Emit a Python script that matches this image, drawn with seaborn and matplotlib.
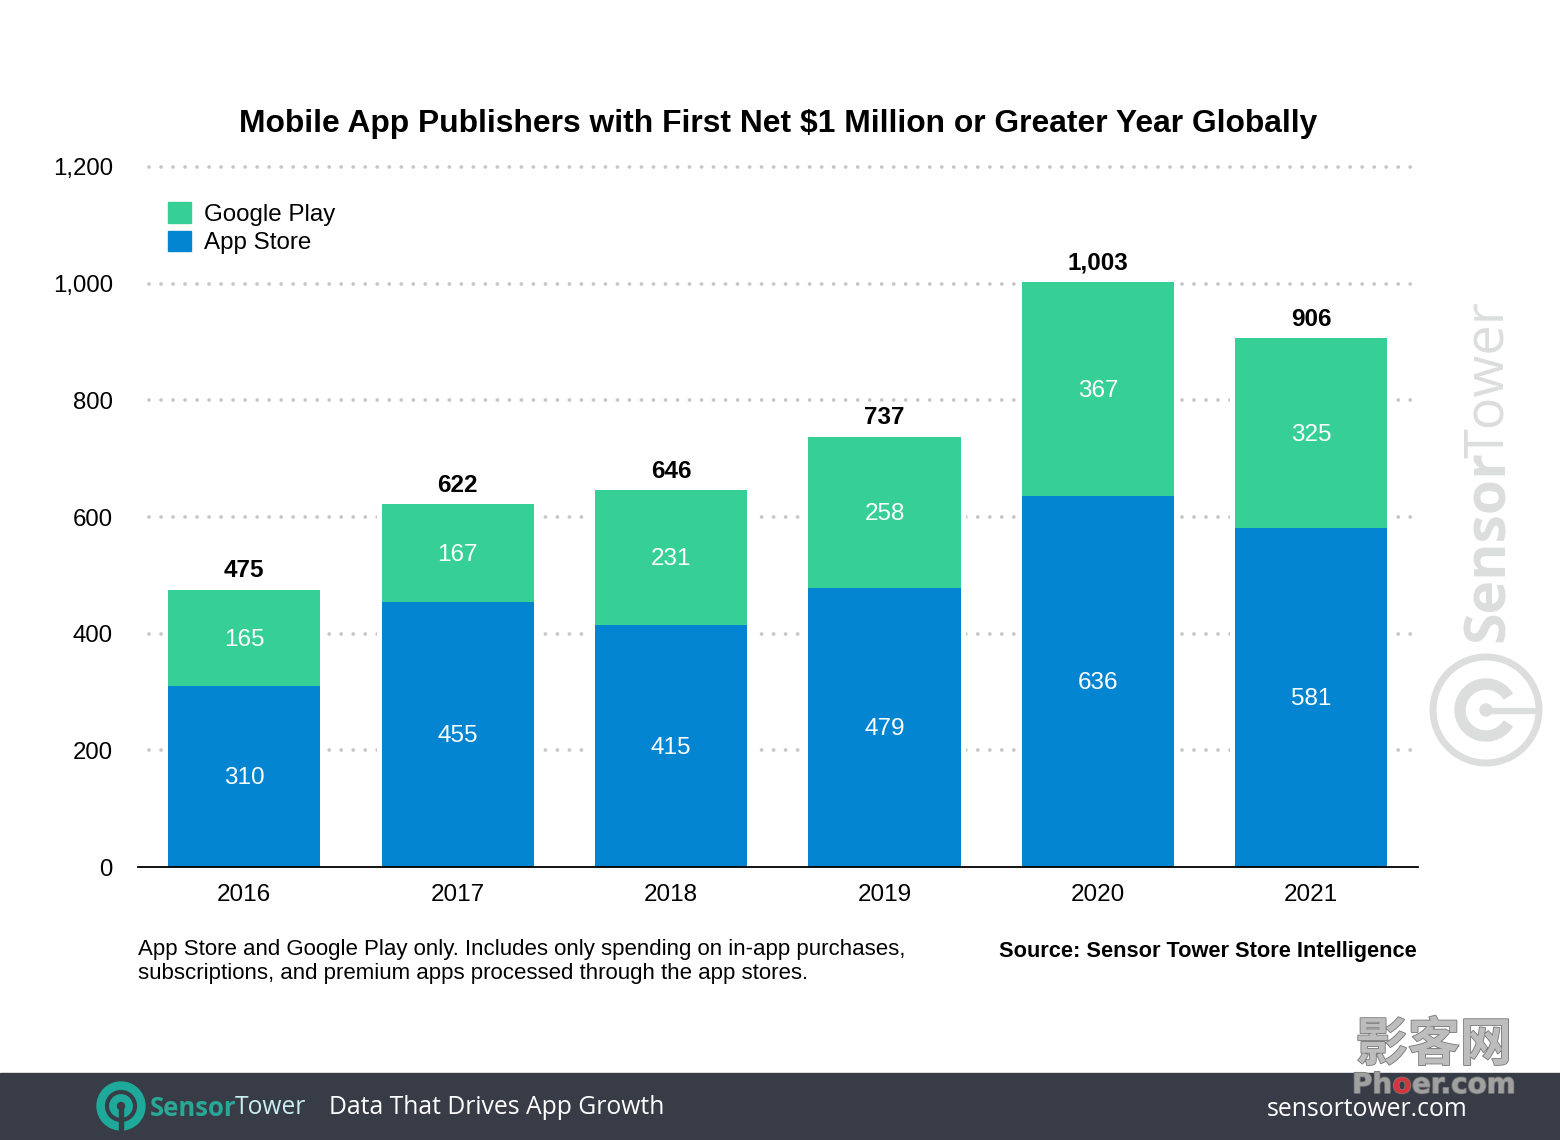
import matplotlib.pyplot as plt
from matplotlib.patches import Circle, Patch, Rectangle, Wedge
import matplotlib.patheffects as pe
import seaborn as sns

years = ["2016", "2017", "2018", "2019", "2020", "2021"]
app_store = [310, 455, 415, 479, 636, 581]
google_play = [165, 167, 231, 258, 367, 325]
totals = [475, 622, 646, 737, 1003, 906]
y_ticks = [0, 200, 400, 600, 800, 1000, 1200]

BLUE = "#0485d1"
GREEN = "#36d096"
DARK = "#383c47"
TEAL = "#1fa99a"
MARK = "#dcdddd"

sns.set_theme(style="white")
plt.rcParams["font.family"] = ["Liberation Sans", "DejaVu Sans"]

W, H = 1560, 1140
fig = plt.figure(figsize=(W / 100, H / 100), dpi=100, facecolor="white")
ax = fig.add_axes([137.5 / W, (H - 867) / H, 1280.5 / W, 700 / H])

# white wider bars keep the dotted lines away from the stacks
sns.barplot(x=years, y=totals, color="white", saturation=1, width=0.76, linewidth=0, ax=ax, zorder=2)
sns.barplot(x=years, y=app_store, color=BLUE, saturation=1, width=0.713, linewidth=0, ax=ax, zorder=3)
sns.barplot(x=years, y=google_play, bottom=app_store, color=GREEN, saturation=1, width=0.713, linewidth=0, ax=ax, zorder=3)

ax.set_xlim(-0.5, 5.5)
ax.set_ylim(0, 1200)
ax.set_xlabel("")
ax.set_ylabel("")
ax.set_yticks(y_ticks)
ax.set_yticklabels([f"{v:,}" for v in y_ticks])
ax.tick_params(axis="y", length=0, pad=17.7, labelsize=17.3, labelcolor="black")
ax.tick_params(axis="x", length=0, pad=12, labelsize=17.5, labelcolor="black")
sns.despine(ax=ax, left=True)
ax.spines["bottom"].set_color("black")
ax.spines["bottom"].set_linewidth(1.3)
ax.spines["bottom"].set_zorder(5)

# dotted gridlines, they start and stop a little inside the axes
ax.hlines(
    y_ticks[1:],
    0.0086,
    0.9975,
    transform=ax.get_yaxis_transform(),
    colors="#c6c6c6",
    linewidth=2.7,
    linestyles=[(0, (0.01, 3.193))],
    capstyle="round",
    clip_on=False,
    zorder=1,
)

blue_bars, green_bars = ax.containers[1], ax.containers[2]
inner = ax.bar_label(blue_bars, labels=app_store, label_type="center", color="white", fontsize=17.5)
inner += ax.bar_label(green_bars, labels=google_play, label_type="center", color="white", fontsize=17.5)
for label in inner:
    label.xyann = (0, -1.2)
ax.bar_label(green_bars, labels=[f"{v:,}" for v in totals], padding=5.5, color="black", fontsize=17.5, fontweight="bold")

ax.legend(
    handles=[Patch(color=GREEN, label="Google Play"), Patch(color=BLUE, label="App Store")],
    loc="upper left",
    bbox_to_anchor=(30.5 / 1280.5, 1 - 35 / 700),
    borderaxespad=0,
    borderpad=0,
    frameon=False,
    fontsize=17.4,
    labelcolor="black",
    handlelength=0.95,
    handleheight=0.95,
    handletextpad=0.55,
    labelspacing=0.2,
)

# everything outside the plot goes on a pixel-sized overlay
over = fig.add_axes([0, 0, 1, 1], zorder=-1)
over.set_xlim(0, W)
over.set_ylim(H, 0)
over.axis("off")

over.text(778, 124, "Mobile App Publishers with First Net $1 Million or Greater Year Globally",
          ha="center", va="center", fontsize=22.9, fontweight="bold", color="black")
over.text(138, 949, "App Store and Google Play only. Includes only spending on in-app purchases,",
          va="center", fontsize=16, color="black")
over.text(138, 973, "subscriptions, and premium apps processed through the app stores.",
          va="center", fontsize=16, color="black")
over.text(1417, 951, "Source: Sensor Tower Store Intelligence",
          ha="right", va="center", fontsize=15.7, fontweight="bold", color="black")

# side watermark
over.text(1489, 642, "Sensor", rotation=90, ha="center", va="bottom", fontsize=41,
          fontweight="bold", family="Open Sans", color=MARK)
over.text(1489, 458, "Tower", rotation=90, ha="center", va="bottom", fontsize=39,
          family="Open Sans", color=MARK)
over.add_patch(Circle((1486, 710), 53, fill=False, ec=MARK, lw=5))
over.add_patch(Wedge((1486, 710), 31, 32, 328, width=10, color=MARK))
over.add_patch(Circle((1486, 710), 6, color=MARK))
over.add_patch(Rectangle((1486, 707.5), 54, 5, color=MARK))

# footer band
over.add_patch(Rectangle((0, 1073), W, 67, color=DARK))
over.add_patch(Circle((121, 1106), 24, color=TEAL))
over.add_patch(Circle((121, 1106), 14, fill=False, ec=DARK, lw=3))
over.add_patch(Circle((121, 1106), 3.5, color=DARK))
over.add_patch(Rectangle((119, 1106), 4, 24, color=DARK))
over.text(150, 1108, "Sensor", va="center", fontsize=18.5, fontweight="bold", family="Open Sans", color="#29a898")
over.text(235, 1108, "Tower", va="center", fontsize=17.7, family="Open Sans", color="#c9eef0")
over.text(329, 1108, "Data That Drives App Growth", va="center", fontsize=17.8, family="Open Sans", color="white")
over.text(1467, 1110, "sensortower.com", ha="right", va="center", fontsize=17.8, family="Open Sans", color="white")

# site stamp over the bottom right corner
stamp = [pe.withStroke(linewidth=1.2, foreground="#777777")]
over.text(1434, 1045, "影客网", ha="center", va="center", fontsize=37.5, fontweight="bold",
          family=["Noto Sans CJK SC", "DejaVu Sans"], color="#bdbdbd", path_effects=stamp)
over.text(1352, 1085, "Ph", va="center", fontsize=20, fontweight="bold", family="DejaVu Sans",
          color="#a0a0a0", path_effects=stamp)
over.text(1392.5, 1085, "o", va="center", fontsize=20, fontweight="bold", family="DejaVu Sans",
          color="#d8343c", path_effects=stamp)
over.text(1412, 1085, "er.com", va="center", fontsize=20, fontweight="bold", family="DejaVu Sans",
          color="#a0a0a0", path_effects=stamp)

plt.savefig("out.png", dpi=100)
plt.close()
